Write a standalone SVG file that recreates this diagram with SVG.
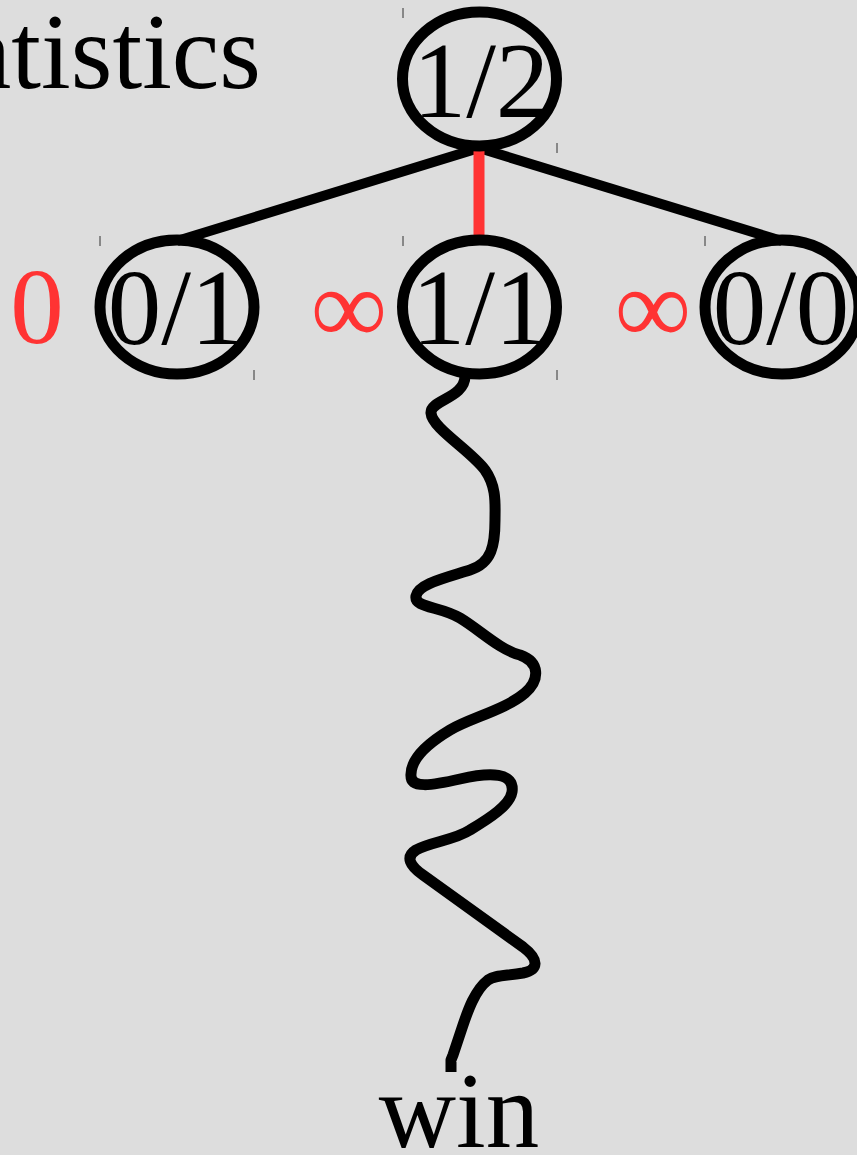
<svg xmlns="http://www.w3.org/2000/svg" width="857" height="1155" viewBox="0 0 857 1155">
  <style>
    .t { font-family: "Liberation Serif", "Times New Roman", serif; font-size: 107px; fill: #000; }
    .r { font-family: "Liberation Serif", "Times New Roman", serif; font-size: 107px; fill: #ff3333; }
    .node { fill: none; stroke: #000; stroke-width: 11; }
    .edge { stroke: #000; stroke-width: 10; fill: none; }
    .wave { stroke: #000; stroke-width: 11; fill: none; stroke-linejoin: round; }
    .sel { stroke: #ff3333; stroke-width: 11; fill: none; }
    .tick { stroke: #333; stroke-width: 1; }
  </style>
  <rect x="0" y="0" width="857" height="1155" fill="#dddddd"/>
  <text class="t" x="261" y="88" text-anchor="end">statistics</text>

  <g id="connectors">
    <line class="edge" x1="479" y1="148" x2="177" y2="241"/>
    <line class="edge" x1="479" y1="148" x2="782" y2="241"/>
    <line class="sel" x1="479" y1="149" x2="479" y2="241"/>
    <path class="wave" d="M465,376 C465,398 430,400 431,413 C432,428 470,450 485,470 C497,487 495,505 495,520 C495,545 492,563 470,570 C445,578 418,584 416,596 C414,608 440,606 460,618 C480,630 500,650 520,655 C540,662 540,680 525,693 C505,710 470,718 450,730 C425,745 410,760 411,776 C411,788 430,786 460,779 C490,772 515,772 512,792 C510,805 490,818 470,830 C455,840 430,842 416,850 C405,857 410,866 423,875 L523,947 C540,960 538,970 523,973 C505,976 495,975 488,980 C475,990 468,1010 462,1028 L453,1055 L451,1060 L451,1072"/>
  </g>

  <g id="node-root">
    <line class="tick" x1="403" y1="8" x2="403" y2="18"/>
    <line class="tick" x1="557" y1="143" x2="557" y2="153"/>
    <ellipse class="node" cx="479.5" cy="79" rx="77" ry="67"/>
    <text class="t" x="481" y="117" text-anchor="middle">1/2</text>
  </g>

  <g id="node-left">
    <line class="tick" x1="100" y1="236" x2="100" y2="246"/>
    <line class="tick" x1="254" y1="370" x2="254" y2="380"/>
    <ellipse class="node" cx="177" cy="307" rx="77" ry="67"/>
    <text class="t" x="176" y="344" text-anchor="middle">0/1</text>
    <text class="r" x="37" y="343" text-anchor="middle">0</text>
  </g>

  <g id="node-mid">
    <line class="tick" x1="403" y1="236" x2="403" y2="246"/>
    <line class="tick" x1="557" y1="370" x2="557" y2="380"/>
    <ellipse class="node" cx="479.5" cy="307" rx="77" ry="67"/>
    <text class="t" x="480" y="344" text-anchor="middle">1/1</text>
    <text class="r" x="349" y="343" text-anchor="middle">∞</text>
  </g>

  <g id="node-right">
    <line class="tick" x1="705" y1="236" x2="705" y2="246"/>
    <ellipse class="node" cx="782" cy="307" rx="77" ry="67"/>
    <text class="t" x="781" y="344" text-anchor="middle">0/0</text>
    <text class="r" x="653" y="343" text-anchor="middle">∞</text>
  </g>

  <g id="node-win">
    <text class="t" x="459" y="1147" text-anchor="middle">win</text>
  </g>
</svg>
